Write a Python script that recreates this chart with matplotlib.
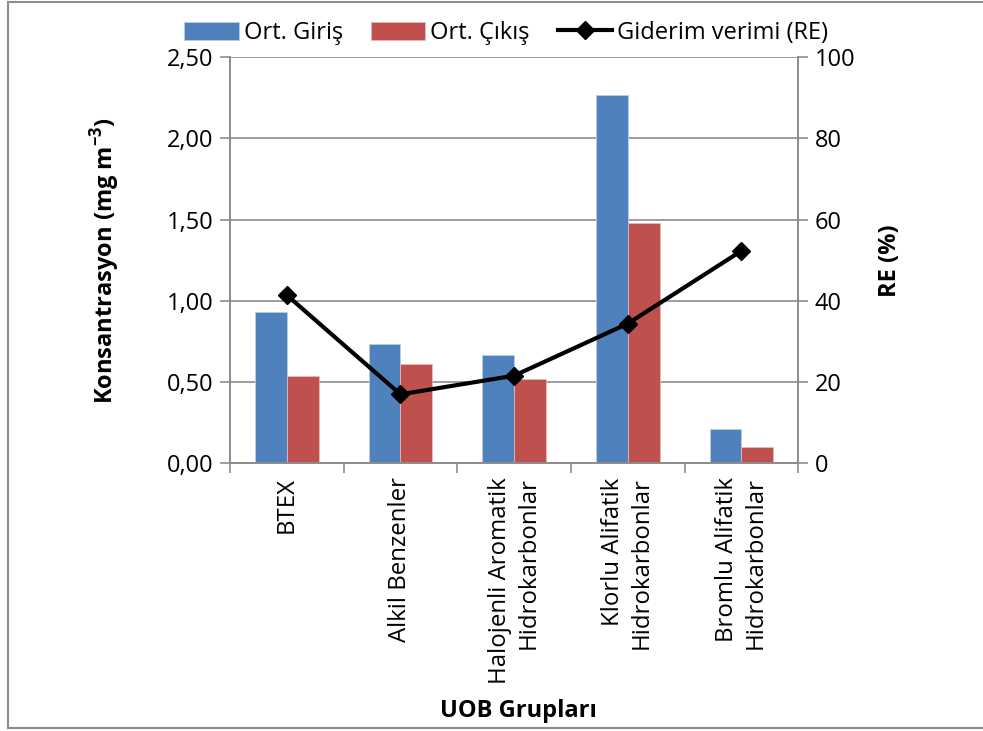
import matplotlib.pyplot as plt
import numpy as np
from matplotlib.lines import Line2D

plt.rcParams['font.family'] = ['Open Sans', 'DejaVu Sans']

groups = ['BTEX', 'Alkil Benzenler', 'Halojenli Aromatik\nHidrokarbonlar',
          'Klorlu Alifatik\nHidrokarbonlar', 'Bromlu Alifatik\nHidrokarbonlar']
giris = [0.93, 0.735, 0.67, 2.265, 0.215]
cikis = [0.54, 0.61, 0.52, 1.48, 0.10]
re_vals = [41.4, 17.0, 21.6, 34.4, 52.3]

blue = '#4F81BD'
red = '#C0504D'
grid_c = '#8C8C8C'

fig = plt.figure(figsize=(9.83, 7.31), dpi=100)
ax = fig.add_axes([0.234, 0.366, 0.578, 0.556])
ax2 = ax.twinx()

x = np.arange(len(groups))
w = 0.28
ax.bar(x - w / 2, giris, w, color=blue, edgecolor='#B9CDE5', linewidth=0.6, label='Ort. Giriş', zorder=2)
ax.bar(x + w / 2, cikis, w, color=red, edgecolor='#E6B9B8', linewidth=0.6, label='Ort. Çıkış', zorder=2)
ax2.plot(x, re_vals, color='black', lw=3, marker='D', ms=9, label='Giderim verimi (RE)')

ax.set_xlim(-0.5, len(groups) - 0.5)
ax.set_ylim(0, 2.5)
ax2.set_ylim(0, 100)
ax.set_yticks(np.arange(0, 2.51, 0.5))
ax.set_yticklabels([f'{v:.2f}'.replace('.', ',') for v in np.arange(0, 2.51, 0.5)])
ax2.set_yticks(np.arange(0, 101, 20))

ax.yaxis.grid(True, color=grid_c, lw=1.2, zorder=0)
ax.set_axisbelow(True)

ax.set_xticks(np.arange(len(groups) + 1) - 0.5, minor=False)
ax.set_xticklabels([])
ax.set_xticks(x, minor=True)
ax.set_xticklabels(groups, minor=True, rotation=90, ha='center', va='top',
                   multialignment='right', fontsize=17.3, linespacing=1.25)
ax.tick_params(axis='x', which='minor', length=0, pad=10)
ax.tick_params(axis='x', which='major', length=7, color=grid_c, width=1.2)
ax.tick_params(axis='y', length=7, color=grid_c, width=1.2, labelsize=17, pad=5)
ax2.tick_params(axis='y', length=7, color=grid_c, width=1.2, labelsize=17, pad=5)

for a in (ax, ax2):
    a.spines['top'].set_visible(False)
    for s in ('left', 'right', 'bottom'):
        a.spines[s].set_color(grid_c)
        a.spines[s].set_linewidth(1.2)

ax.set_ylabel('Konsantrasyon (mg m$^{\\mathregular{-3}}$)', fontsize=17, fontweight='bold', labelpad=32)
ax2.set_ylabel('RE (%)', fontsize=17, fontweight='bold', labelpad=16)
fig.text(0.527, 0.028, 'UOB Grupları', ha='center', va='center', fontsize=17, fontweight='bold')

h1, l1 = ax.get_legend_handles_labels()
h2, l2 = ax2.get_legend_handles_labels()
fig.legend(h1 + h2, l1 + l2, loc='center', bbox_to_anchor=(0.515, 0.955), ncol=3, frameon=False,
           fontsize=17, handlelength=2.3, handleheight=0.8, columnspacing=1.2, handletextpad=0.2)

# outer chart border
fig.add_artist(Line2D([0.008, 0.008], [0.004, 0.997], color=grid_c, lw=1.5, transform=fig.transFigure))
fig.add_artist(Line2D([0.008, 1.0], [0.997, 0.997], color=grid_c, lw=1.5, transform=fig.transFigure))
fig.add_artist(Line2D([0.008, 1.0], [0.004, 0.004], color=grid_c, lw=1.5, transform=fig.transFigure))

plt.savefig('out.png', dpi=100)
